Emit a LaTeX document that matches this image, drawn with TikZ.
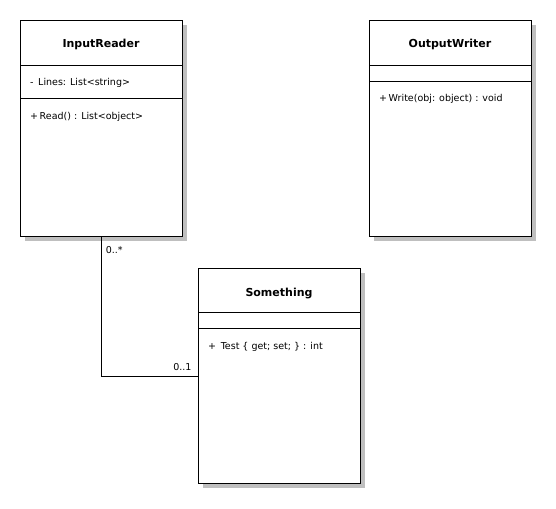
\documentclass[tikz,border=0pt]{standalone}
\usepackage{fontspec}
\setmainfont{DejaVu Sans}
\usetikzlibrary{positioning,shadows}
\tikzset{
  cls/.style={draw,line width=1.2pt,fill=white,anchor=north west,inner sep=0pt,
    drop shadow={shadow xshift=4pt,shadow yshift=-4pt,fill=black!25,opacity=1}},
  ctitle/.style={font=\fontsize{11}{13}\selectfont\bfseries,anchor=base,inner sep=0pt},
  member/.style={font=\fontsize{9.5}{11}\selectfont,anchor=base west,inner sep=0pt},
  mult/.style={font=\fontsize{9.5}{11}\selectfont,inner sep=0pt},
  sep/.style={line width=0.8pt}
}
\begin{document}
\begin{tikzpicture}[x=1pt,y=-1pt]
		\useasboundingbox (0,0) rectangle (556,508);
		%the three classes
		\node [cls,minimum width=162pt,minimum height=216pt] (ir) at (20,20) {};
		\node [cls,minimum width=162pt,minimum height=216pt] (ow) at (369,20) {};
		\node [cls,minimum width=162pt,minimum height=215pt] (sth) at (198,268) {};
		\draw [sep] (20,65) -- (182,65);
		\draw [sep] (20,98) -- (182,98);
		\draw [sep] (369,65.5) -- (531,65.5);
		\draw [sep] (369,81) -- (531,81);
		\draw [sep] (198,312.5) -- (360,312.5);
		\draw [sep] (198,328) -- (360,328);
		\node [ctitle] (irtitle) at (101,47.3) {InputReader};
		\node [ctitle] (owtitle) at (450,47.3) {OutputWriter};
		\node [ctitle] (sthtitle) at (279,296) {Something};
		\node [member] (lines) at (30,86) {-\, Lines: List<string>};
		\node [member] (read) at (30,119.3) {+\,Read() : List<object>};
		\node [member] (write) at (379,101.7) {+\,Write(obj: object) : void};
		\node [member] (test) at (208,349) {+\, Test \{ get; set; \} : int};
		%association
		\draw [line width=0.8pt] (ir.south) |- (sth.west);
		\node [mult,anchor=base west] (many) at (105.7,253.3) {0..*};
		\node [mult,anchor=base east] (one) at (191.7,370.7) {0..1};
\end{tikzpicture}
\end{document}
